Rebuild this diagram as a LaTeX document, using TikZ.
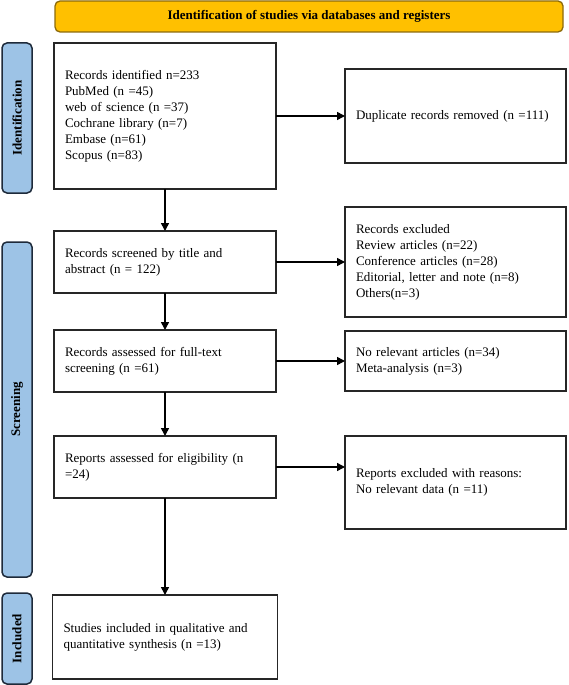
\documentclass[tikz,border=0pt]{standalone}
\usepackage{fontspec}
\setmainfont{Liberation Serif}
\usetikzlibrary{positioning,arrows.meta}
\definecolor{PRGold}{HTML}{FFC000}
\definecolor{PRGoldDark}{HTML}{8C6A0A}
\definecolor{PRBlue}{HTML}{9DC3E6}
\definecolor{PRNavy}{HTML}{1E2A3A}

\begin{document}
\begin{tikzpicture}[
  x=1pt, y=-1pt,
  box/.style={draw=black!85,fill=white,line width=1.5pt,outer sep=0pt,inner xsep=11pt,text width=200pt,align=left,font=\fontsize{13}{16}\selectfont},
  rbox/.style={box,text width=199pt},
  orangebox/.style={draw=PRGoldDark,fill=PRGold,line width=1.3pt,rounded corners=5pt,minimum width=508pt,minimum height=31pt,font=\fontsize{13}{16}\selectfont\bfseries},
  phasebox/.style={draw=PRNavy,fill=PRBlue,line width=1.5pt,rounded corners=5pt,rotate=90,minimum height=30pt,font=\fontsize{13}{16}\selectfont\bfseries},
  arrow/.style={-{Triangle[length=8pt,width=8pt]},line width=1.5pt,black}
]
\useasboundingbox (0,0) rectangle (568,685);
\node[orangebox] (header) at (309,16.5) {Identification of studies via databases and registers};
\node[phasebox, minimum width=150pt] (phId) at (17,118) {Identification};
\node[phasebox, minimum width=335pt] (phScr) at (17,409.5) {Screening};
\node[phasebox, minimum width=91pt] (phInc) at (17,638.5) {Included};
\node[box, minimum height=146pt, anchor=north west] (ident) at (54,43) {Records identified n=233\\PubMed (n =45)\\web of science (n =37)\\Cochrane library (n=7)\\Embase (n=61)\\Scopus (n=83)};
\node[box, minimum height=62pt, below=42pt of ident] (screen) {Records screened by title and\\abstract (n = 122)};
\node[box, minimum height=62pt, below=37pt of screen] (fulltext) {Records assessed for full-text\\screening (n =61)};
\node[box, minimum height=62pt, below=44pt of fulltext] (elig) {Reports assessed for eligibility (n\\=24)};
\node[box, minimum height=84pt, text width=203pt, below=97pt of elig] (incl) {Studies included in qualitative and\\quantitative synthesis (n =13)};
\node[rbox, minimum height=94pt, right=69pt of ident] (dup) {Duplicate records removed (n =111)};
\node[rbox, minimum height=110pt, right=69pt of screen] (excl1) {Records excluded\\Review articles (n=22)\\Conference articles (n=28)\\Editorial, letter and note (n=8)\\Others(n=3)};
\node[rbox, minimum height=60pt, right=69pt of fulltext] (excl2) {No relevant articles (n=34)\\Meta-analysis (n=3)};
\node[rbox, minimum height=93pt, right=69pt of elig.north east, anchor=north west] (excl3) {Reports excluded with reasons:\\No relevant data (n =11)};
\draw[arrow] (ident) -- (screen);
\draw[arrow] (screen) -- (fulltext);
\draw[arrow] (fulltext) -- (elig);
\draw[arrow] (elig) -- (incl);
\draw[arrow] (ident) -- (dup);
\draw[arrow] (screen) -- (excl1);
\draw[arrow] (fulltext) -- (excl2);
\draw[arrow] (elig.east) -- (elig.east -| excl3.west);
\end{tikzpicture}
\end{document}
